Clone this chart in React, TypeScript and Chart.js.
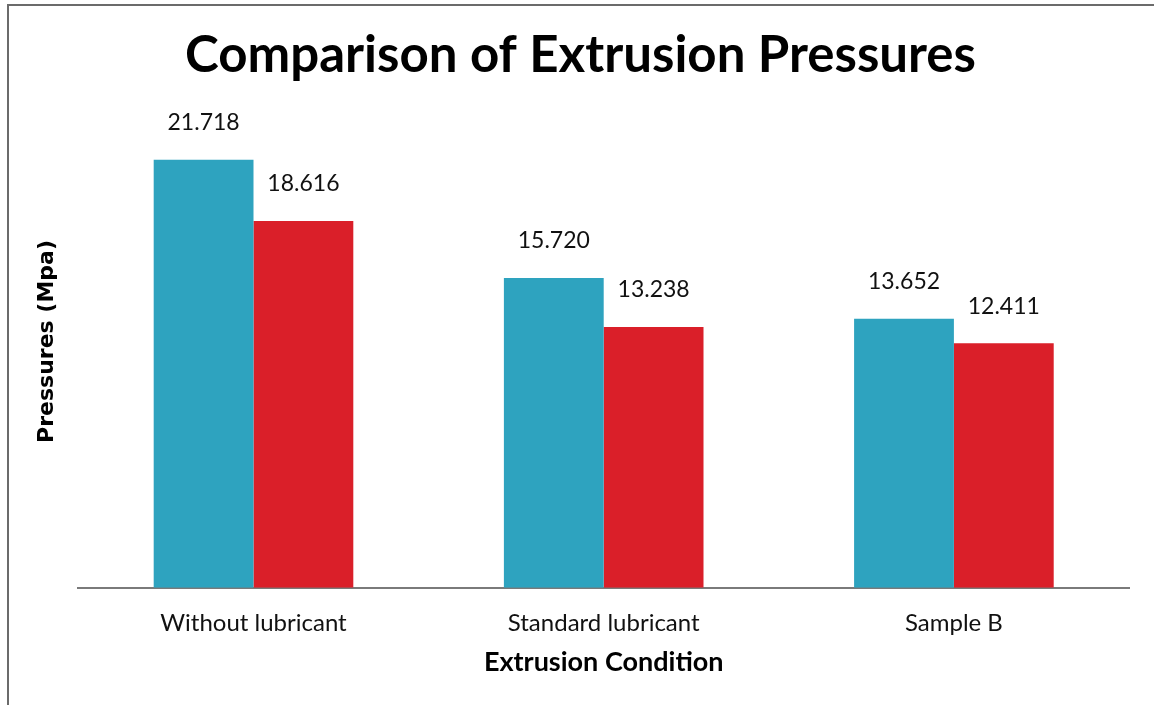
import React, { useEffect, useRef } from "react";
import { Chart, registerables } from "chart.js";

Chart.register(...registerables);

const conditions = ["Without lubricant", "Standard lubricant", "Sample B"];
const seriesA = [21.718, 15.72, 13.652];
const seriesB = [18.616, 13.238, 12.411];
const seriesColors = ["#2ea3bf", "#da1f29"];

const LABEL_FONT = "Lato, 'Open Sans', sans-serif";

const valueLabels = {
  id: "valueLabels",
  afterDatasetsDraw(chart: any) {
    const ctx = chart.ctx;
    ctx.save();
    ctx.font = `23px ${LABEL_FONT}`;
    ctx.fillStyle = "#111";
    ctx.textAlign = "center";
    ctx.textBaseline = "middle";
    chart.data.datasets.forEach((ds: any, di: number) => {
      const meta = chart.getDatasetMeta(di);
      meta.data.forEach((bar: any, i: number) => {
        const v = ds.data[i] as number;
        ctx.fillText(v.toFixed(3), bar.x, bar.y - 37);
      });
    });
    ctx.restore();
  },
};

export default function App() {
  const ref = useRef<HTMLCanvasElement>(null);

  useEffect(() => {
    if (!ref.current) return;
    const chart = new Chart(ref.current, {
      type: "bar",
      data: {
        labels: conditions,
        datasets: [
          { label: "A", data: seriesA, backgroundColor: seriesColors[0] },
          { label: "B", data: seriesB, backgroundColor: seriesColors[1] },
        ],
      },
      options: {
        responsive: false,
        animation: false,
        layout: { padding: { left: 23, right: 25, top: 0, bottom: 27 } },
        datasets: { bar: { barPercentage: 1, categoryPercentage: 0.57 } },
        plugins: {
          legend: { display: false },
          tooltip: { enabled: false },
          title: {
            display: true,
            text: "Comparison of Extrusion Pressures",
            color: "#000",
            font: { family: LABEL_FONT, size: 51, weight: "bold" },
            padding: { top: 19, bottom: 9 },
          },
        },
        scales: {
          x: {
            grid: { display: false },
            border: { display: true, color: "#7a7a7a", width: 2 },
            ticks: {
              color: "#111",
              font: { family: LABEL_FONT, size: 24 },
              padding: 13,
            },
            title: {
              display: true,
              text: "Extrusion Condition",
              color: "#000",
              font: { family: LABEL_FONT, size: 27, weight: "bold" },
              padding: { top: -5, bottom: 0 },
            },
          },
          y: {
            min: 0,
            max: 25,
            grid: { display: false },
            border: { display: false },
            ticks: { display: false },
            title: {
              display: true,
              text: "Pressures (Mpa)",
              color: "#000",
              font: { family: "'DejaVu Sans', sans-serif", size: 22, weight: "bold" },
              padding: { top: 2, bottom: 10 },
            },
          },
        },
      },
      plugins: [valueLabels],
    });
    return () => chart.destroy();
  }, []);

  return (
    <div
      style={{
        position: "absolute",
        left: 7,
        top: 4,
        width: 1147,
        height: 701,
        borderLeft: "2px solid #6b6b6b",
        borderTop: "2px solid #6b6b6b",
        background: "#fff",
      }}
    >
      <canvas ref={ref} width={1145} height={699} style={{ display: "block" }} />
    </div>
  );
}
